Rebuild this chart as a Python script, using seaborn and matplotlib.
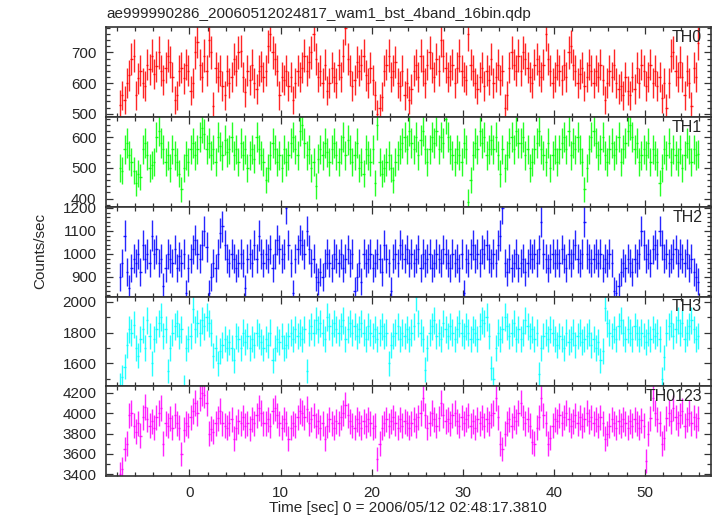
import numpy as np
import pandas as pd
import matplotlib
matplotlib.use("Agg")
import matplotlib.pyplot as plt
from matplotlib.ticker import MultipleLocator
import seaborn as sns

TITLE = "ae999990286_20060512024817_wam1_bst_4band_16bin.qdp"
XLABEL = "Time [sec] 0 = 2006/05/12 02:48:17.3810"
YLABEL = "Counts/sec"

BIN = 0.25       # seconds per bin (16 x 1/64 s)
T_START = -7.75  # left edge of first bin

bands = ["TH0", "TH1", "TH2", "TH3", "TH0123"]
colors = ["#ff0000", "#00ff00", "#0000ff", "#00ffff", "#ff00ff"]

# count rates, 16 bins (4 s) per row
th0 = [
    530, 560, 545, 600, 625, 680, 690, 560, 615, 640, 600, 590, 660, 645, 690, 630,
    655, 700, 640, 610, 650, 690, 670, 620, 545, 560, 640, 650, 615, 660, 640, 575,
    600, 700, 735, 660, 620, 690, 640, 740, 700, 525, 650, 620, 640, 590, 560, 640,
    600, 620, 680, 640, 700, 705, 620, 570, 640, 610, 660, 600, 580, 640, 655, 620,
    640, 720, 760, 700, 680, 640, 560, 620, 610, 640, 590, 620, 545, 600, 640, 620,
    650, 690, 640, 670, 700, 760, 680, 620, 640, 600, 660, 575, 600, 650, 620, 600,
    660, 620, 690, 780, 680, 640, 590, 610, 670, 640, 660, 690, 625, 600, 650, 610,
    560, 500, 520, 555, 640, 660, 690, 620, 640, 670, 600, 590, 640, 560, 600, 545,
    580, 640, 660, 620, 690, 640, 600, 660, 700, 650, 620, 680, 640, 740, 690, 650,
    620, 640, 660, 600, 650, 690, 640, 620, 610, 760, 660, 640, 600, 580, 620, 650,
    590, 640, 610, 680, 600, 620, 660, 610, 640, 520, 560, 650, 700, 660, 640, 690,
    640, 700, 680, 650, 620, 600, 660, 680, 640, 620, 660, 760, 680, 640, 600, 620,
    660, 640, 610, 660, 620, 700, 720, 660, 640, 600, 630, 650, 590, 620, 660, 640,
    600, 640, 620, 660, 610, 545, 600, 640, 620, 660, 600, 580, 590, 560, 620, 575,
    560, 620, 580, 650, 600, 660, 640, 590, 620, 660, 600, 640, 590, 620, 550, 600,
    520, 600, 690, 700, 640, 620, 670, 620, 560, 640, 600, 525, 650, 620, 730,
]
th1 = [
    500, 490, 560, 580, 540, 520, 490, 450, 480, 470, 560, 580, 540, 500, 510, 520,
    600, 620, 580, 560, 520, 540, 500, 560, 540, 520, 480, 430, 500, 540, 520, 560,
    580, 540, 560, 600, 630, 610, 560, 580, 540, 560, 520, 600, 570, 540, 590, 550,
    560, 600, 540, 560, 520, 580, 540, 560, 500, 540, 560, 530, 600, 560, 540, 520,
    460, 500, 540, 580, 560, 520, 540, 500, 560, 520, 540, 580, 600, 560, 540, 620,
    640, 580, 540, 560, 500, 520, 440, 530, 560, 540, 580, 550, 520, 560, 580, 540,
    520, 560, 600, 540, 590, 560, 520, 540, 580, 500, 520, 480, 560, 540, 520, 560,
    450, 640, 520, 480, 500, 520, 540, 500, 460, 520, 540, 560, 580, 600, 560, 620,
    580, 560, 600, 540, 590, 620, 560, 520, 560, 600, 580, 620, 560, 600, 580, 660,
    600, 560, 540, 520, 560, 540, 520, 580, 560, 390, 460, 540, 580, 560, 620, 580,
    600, 540, 560, 590, 560, 600, 540, 480, 560, 500, 540, 580, 600, 560, 620, 580,
    580, 600, 540, 560, 500, 520, 560, 580, 620, 560, 540, 520, 580, 500, 540, 560,
    520, 560, 580, 600, 560, 620, 540, 580, 560, 600, 560, 520, 430, 500, 560, 600,
    620, 580, 540, 560, 600, 540, 520, 560, 580, 540, 560, 600, 520, 560, 580, 620,
    640, 600, 560, 580, 520, 540, 560, 540, 580, 520, 560, 540, 520, 450, 500, 560,
    540, 580, 520, 560, 540, 520, 560, 500, 540, 580, 560, 520, 560, 540, 545,
]
th2 = [
    900, 960, 1080, 920, 850, 940, 980, 960, 1000, 920, 1040, 980, 1000, 960, 1080, 1000,
    1020, 960, 980, 860, 940, 1000, 980, 960, 1020, 940, 990, 960, 1000, 830, 940, 980,
    1020, 1060, 1000, 980, 1040, 1100, 1030, 830, 900, 960, 940, 1000, 1090, 1120, 1040, 980,
    960, 1000, 980, 940, 960, 1000, 960, 850, 980, 1000, 960, 1040, 980, 1080, 1000, 960,
    1000, 980, 1020, 940, 1000, 1060, 1020, 980, 1000, 1200, 1040, 960, 830, 980, 1020, 1060,
    1040, 1000, 1100, 1020, 960, 980, 900, 880, 920, 900, 960, 1000, 960, 940, 1000, 980,
    960, 1000, 940, 980, 1020, 960, 1000, 840, 900, 960, 880, 1000, 960, 980, 1000, 940,
    960, 1000, 980, 920, 1040, 980, 960, 840, 980, 1000, 960, 1040, 1000, 980, 1020, 960,
    1000, 960, 980, 1020, 940, 1000, 960, 980, 1000, 940, 960, 1000, 980, 960, 1020, 1000,
    960, 940, 1000, 960, 980, 940, 1000, 830, 980, 960, 1000, 1040, 980, 1000, 960, 1020,
    1000, 1040, 980, 960, 1000, 960, 1040, 1080, 1200, 960, 920, 980, 940, 960, 1000, 940,
    960, 980, 920, 960, 1000, 980, 1000, 960, 1020, 1140, 1000, 980, 940, 980, 1000, 960,
    1000, 960, 1020, 980, 940, 1000, 960, 1000, 1040, 980, 960, 1000, 1140, 1000, 980, 960,
    980, 1000, 960, 1000, 940, 980, 960, 1000, 960, 840, 830, 860, 920, 960, 940, 980,
    960, 920, 980, 960, 1000, 1100, 1040, 980, 1000, 960, 1020, 1040, 1000, 1100, 1040, 980,
    1000, 960, 980, 1000, 1020, 960, 1000, 980, 960, 1000, 940, 980, 920, 900, 880,
]
th3 = [
    1460, 1510, 1580, 1720, 1820, 1800, 1850, 1700, 1650, 1760, 1820, 1700, 1880, 1780, 1600, 1760,
    1820, 1860, 1900, 1780, 1820, 1550, 1700, 1800, 1840, 1860, 1780, 1820, 1450, 1700, 1760, 1780,
    1950, 1820, 1860, 1800, 1880, 1840, 1900, 1860, 1800, 1650, 1700, 1600, 1680, 1720, 1760, 1700,
    1740, 1700, 1620, 1780, 1760, 1700, 1800, 1740, 1780, 1700, 1760, 1720, 1800, 1780, 1740, 1700,
    1760, 1720, 1800, 1620, 1700, 1760, 1740, 1780, 1700, 1720, 1780, 1800, 1760, 1820, 1780, 1800,
    1760, 1820, 1550, 1800, 1840, 1800, 1880, 1820, 1860, 1800, 1760, 1900, 1840, 1800, 1860, 1820,
    1800, 1840, 1880, 1760, 1820, 1860, 1800, 1840, 1780, 1820, 1860, 1800, 1760, 1840, 1800, 1780,
    1820, 1760, 1800, 1840, 1780, 1800, 1600, 1720, 1780, 1800, 1840, 1760, 1800, 1780, 1820, 1760,
    1800, 1840, 2030, 1860, 1800, 1760, 1560, 1700, 1800, 1840, 1880, 1780, 1800, 1760, 1860, 1820,
    1780, 1840, 1800, 1760, 1820, 1860, 1800, 1780, 1840, 1800, 1760, 1820, 1800, 1760, 1840, 1880,
    1860, 1900, 1780, 1570, 1500, 1700, 1800, 1760, 1820, 1900, 1840, 1780, 1800, 1860, 1760, 1820,
    1760, 1800, 1880, 1840, 1780, 1820, 1760, 1800, 1530, 1700, 1780, 1800, 1760, 1820, 1800, 1760,
    1720, 1780, 1760, 1700, 1800, 1740, 1760, 1800, 1720, 1780, 1800, 1740, 1760, 1780, 1800, 1720,
    1760, 1700, 1740, 1620, 1680, 1960, 1860, 1800, 1780, 1820, 1760, 1840, 1880, 1800, 1760, 1820,
    1800, 1760, 1840, 1800, 1760, 1800, 1780, 1740, 1800, 1760, 1820, 1780, 1800, 1760, 1500, 1640,
    1800, 1840, 1860, 1780, 1820, 1880, 1800, 1860, 1760, 1800, 1840, 1880, 1820, 1760, 1780,
]
th0123 = [
    3400, 3450, 3650, 3700, 3980, 4000, 3880, 3820, 3900, 3780, 3960, 4060, 3940, 3880, 3920, 3860,
    3960, 4000, 4050, 3700, 3900, 3880, 3950, 3860, 3980, 3900, 3860, 3600, 3840, 3900, 3880, 3960,
    4020, 4100, 4000, 4150, 4200, 4180, 4100, 3800, 3850, 3820, 3900, 3950, 4020, 3900, 3880, 3860,
    3900, 3940, 3750, 3860, 3920, 3900, 3960, 3880, 3900, 3850, 3940, 3900, 3980, 4050, 4000, 3900,
    3900, 3940, 3880, 4020, 4050, 3980, 3900, 3860, 3940, 3900, 3750, 3860, 3900, 3880, 3960, 4020,
    4000, 3960, 4040, 3900, 3940, 3980, 3880, 3920, 3860, 3900, 3750, 3880, 3940, 3900, 3860, 3920,
    3900, 3960, 4000, 4080, 3980, 3920, 3880, 3860, 3940, 3900, 3860, 3920, 3880, 3940, 3900, 3860,
    3880, 3550, 3700, 3860, 3900, 3940, 3880, 3920, 3960, 3900, 3860, 3940, 3880, 3920, 3900, 3860,
    3900, 3940, 3880, 3960, 4000, 4150, 3980, 3860, 3900, 4000, 3940, 3880, 3950, 4100, 3980, 3920,
    3940, 3900, 3980, 4000, 3920, 3880, 3960, 3900, 3940, 3980, 3880, 3920, 3860, 3940, 3900, 3960,
    3880, 3940, 3900, 3980, 4000, 4150, 3960, 3700, 3650, 3800, 3900, 3940, 3880, 3960, 3920, 4000,
    4100, 3960, 3900, 3940, 3880, 3720, 3700, 3860, 3960, 4150, 3980, 3900, 3700, 3760, 3880, 3940,
    3920, 3980, 3900, 3960, 4000, 3940, 3880, 3920, 3980, 3900, 3960, 3880, 3940, 4000, 3920, 3960,
    3900, 3940, 3880, 3960, 3900, 3750, 3800, 3880, 3940, 3900, 3860, 3920, 3880, 3940, 3900, 3860,
    3920, 3880, 3940, 3900, 3860, 3930, 3880, 3530, 3800, 3950, 4150, 4000, 3940, 3900, 3700, 3760,
    3950, 4000, 3920, 4050, 3960, 3900, 3980, 4020, 3880, 3940, 4000, 3900, 3960, 3880, 3950,
]
series = [th0, th1, th2, th3, th0123]

# per-panel y axis setup
ylims = [(489, 782), (373, 665), (815, 1205), (1453, 2032), (3383, 4266)]
ymajor = [100, 100, 100, 200, 200]
yminor = [20, 20, 20, 100, 100]


def build_frame():
    frames = []
    for band, vals in zip(bands, series):
        rate = np.asarray(vals, dtype=float)
        t = T_START + BIN * (np.arange(len(rate)) + 0.5)
        err = np.sqrt(rate * BIN) / BIN  # poisson error on the rate
        frames.append(pd.DataFrame({"band": band, "time": t, "rate": rate, "err": err}))
    return pd.concat(frames, ignore_index=True)


def draw_band(data, color=None, label=None, **kws):
    ax = plt.gca()
    ax.errorbar(data["time"], data["rate"], xerr=BIN / 2, yerr=data["err"],
                fmt="none", ecolor=color, elinewidth=1.0, capsize=0, alpha=0.85)


sns.set_theme(style="ticks")
plt.rcParams["font.family"] = ["Liberation Sans", "DejaVu Sans"]

df = build_frame()
g = sns.FacetGrid(df, row="band", row_order=bands, hue="band", hue_order=bands,
                  palette=colors, sharex=True, sharey=False, height=1.0, aspect=7,
                  despine=False)
g.map_dataframe(draw_band)
g.set_titles("")
g.set_axis_labels("", "")

fig = g.figure
fig.set_size_inches(7.17, 5.16)
fig.subplots_adjust(left=0.148, right=0.992, top=0.947, bottom=0.0775, hspace=0)

for i, ax in enumerate(g.axes.flat):
    ax.set_xlim(-9.15, 57.3)
    ax.set_ylim(*ylims[i])
    ax.xaxis.set_major_locator(MultipleLocator(10))
    ax.xaxis.set_minor_locator(MultipleLocator(2))
    ax.yaxis.set_major_locator(MultipleLocator(ymajor[i]))
    ax.yaxis.set_minor_locator(MultipleLocator(yminor[i]))
    ax.tick_params(which="both", direction="in", top=True, right=True,
                   color="#333333", width=0.9, labelsize=11)
    ax.tick_params(which="major", length=5, pad=7)
    ax.tick_params(which="minor", length=3)
    for sp in ax.spines.values():
        sp.set_linewidth(1.2)
        sp.set_color("#333333")
    ax.text(0.985, 0.885, bands[i], transform=ax.transAxes, ha="right", va="center",
            fontsize=11.5)

fig.text(0.148, 1 - 14 / 516, TITLE, ha="left", va="center", fontsize=11)
fig.text(40 / 717, 1 - 251 / 516, YLABEL, rotation=90, ha="center", va="center", fontsize=11)
fig.text(408 / 717, 1 - 508 / 516, XLABEL, ha="center", va="center", fontsize=11)

fig.savefig("out.png", dpi=100)
plt.close(fig)
